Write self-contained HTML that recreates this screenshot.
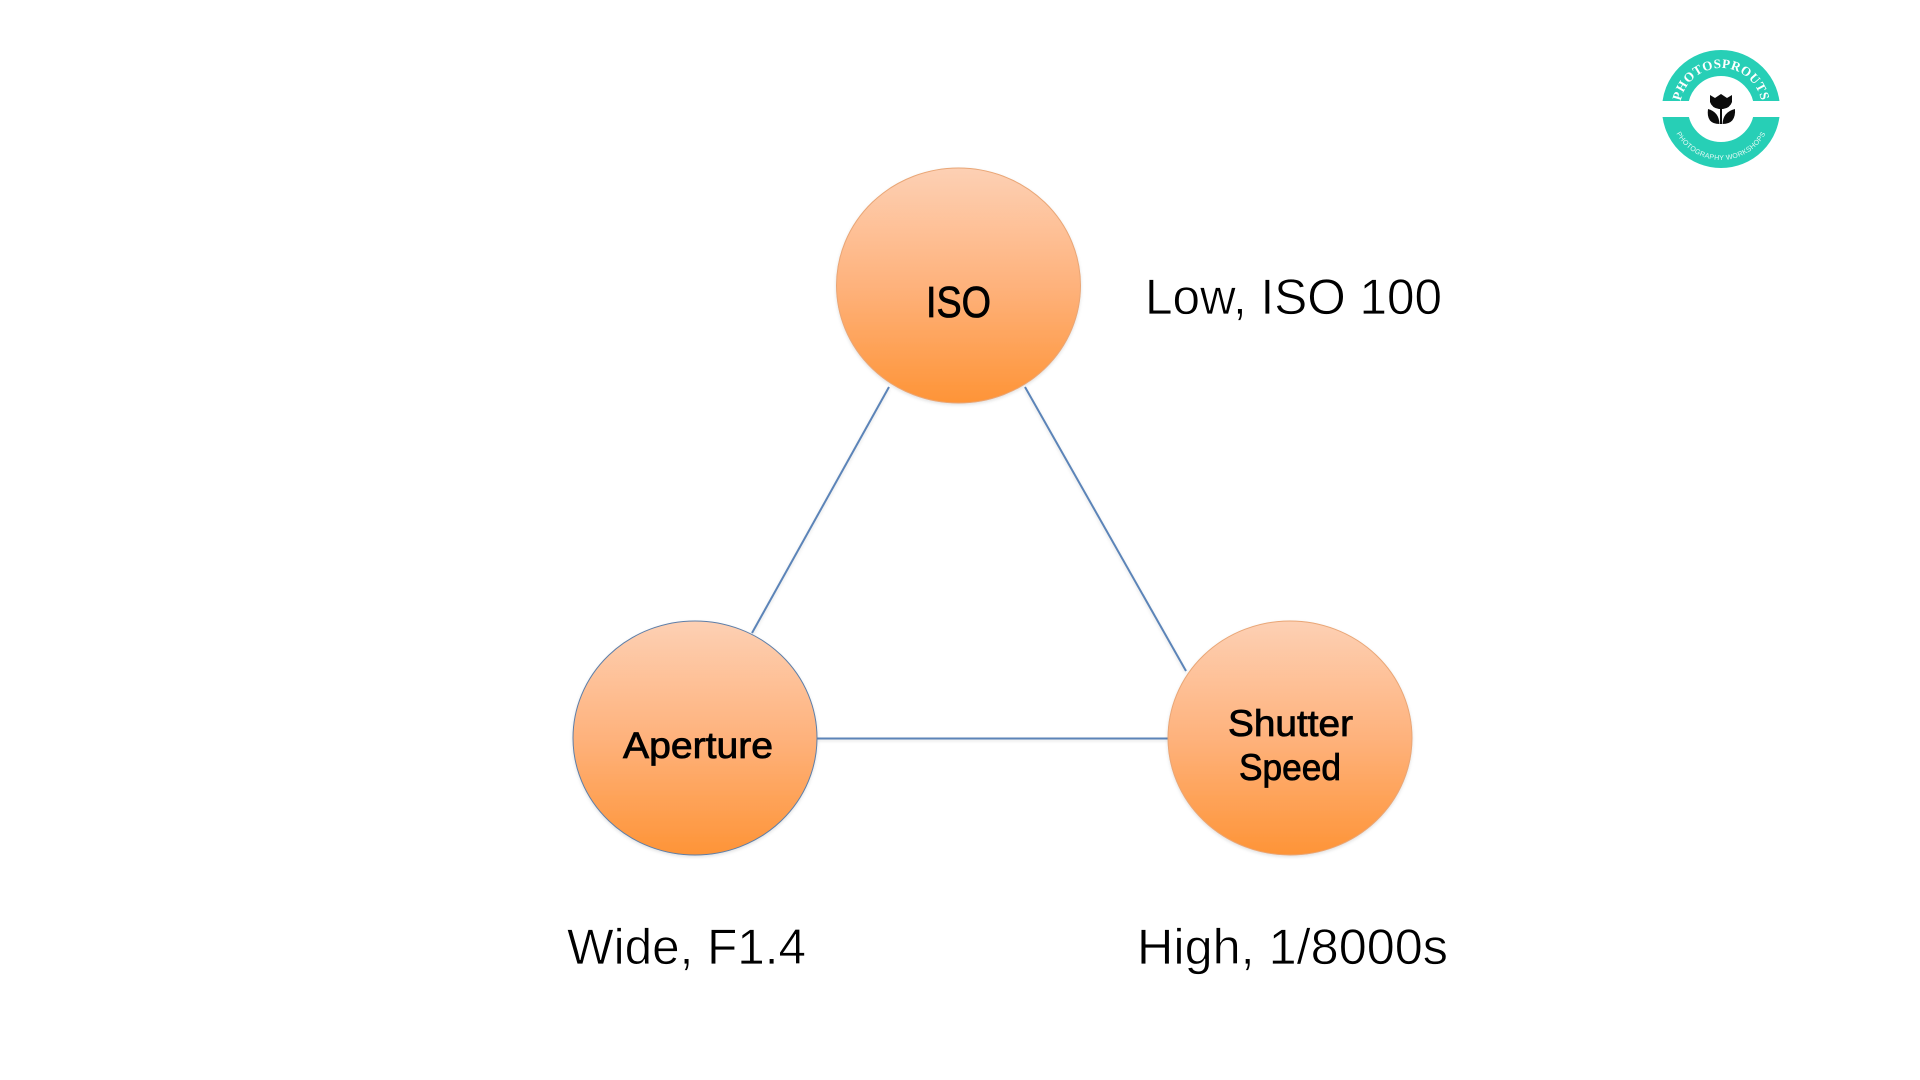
<!DOCTYPE html>
<html><head><meta charset="utf-8"><style>html,body{margin:0;padding:0;background:#fff;width:1920px;height:1080px;overflow:hidden}svg{display:block}text{font-family:"Liberation Sans",sans-serif;fill:#000}.b{stroke:#000;stroke-width:.8px}.l{stroke:#fff;stroke-width:.7px}</style></head><body>
<svg width="1920" height="1080" viewBox="0 0 1920 1080" xmlns="http://www.w3.org/2000/svg">
<defs>
<linearGradient id="g" x1="0" y1="0" x2="0" y2="1"><stop offset="0" stop-color="#fdd0b4"/><stop offset="0.5" stop-color="#feb27c"/><stop offset="1" stop-color="#fe9437"/></linearGradient>
<filter id="s" x="-10%" y="-10%" width="120%" height="120%"><feDropShadow dx="0" dy="1.5" stdDeviation="1.5" flood-color="#000" flood-opacity="0.12"/></filter>
<clipPath id="tc"><rect x="1650" y="40" width="142" height="61"/></clipPath>
<clipPath id="bc"><rect x="1650" y="117" width="142" height="61"/></clipPath>
<path id="ta" d="M1680 109 A41 41 0 0 1 1762 109" fill="none"/>
<path id="ba" d="M1670 109 A51 51 0 0 0 1772 109" fill="none"/>
</defs>
<g stroke="#5b84b8" stroke-width="2" fill="none" filter="url(#s)">
<line x1="889" y1="387" x2="752" y2="633"/>
<line x1="1025" y1="387" x2="1186" y2="671"/>
<line x1="817" y1="738.5" x2="1168" y2="738.5"/>
</g>
<ellipse cx="958.5" cy="285.5" rx="122" ry="117.5" fill="url(#g)" stroke="#e9a676" stroke-width="1" filter="url(#s)"/>
<ellipse cx="695" cy="738" rx="122" ry="117" fill="url(#g)" stroke="#5d7ea8" stroke-width="1" filter="url(#s)"/>
<ellipse cx="1290" cy="738" rx="122" ry="117" fill="url(#g)" stroke="#e9a676" stroke-width="1" filter="url(#s)"/>
<text class="b" x="926" y="317" font-size="44" textLength="65" lengthAdjust="spacingAndGlyphs">ISO</text>
<text class="b" x="623" y="758" font-size="37" textLength="150" lengthAdjust="spacingAndGlyphs">Aperture</text>
<text class="b" x="1228" y="736" font-size="37" textLength="125" lengthAdjust="spacingAndGlyphs">Shutter</text>
<text class="b" x="1239" y="780" font-size="37" textLength="102" lengthAdjust="spacingAndGlyphs">Speed</text>
<text class="l" x="1145" y="314" font-size="50" textLength="297" lengthAdjust="spacingAndGlyphs">Low, ISO 100</text>
<text class="l" x="567" y="964" font-size="50" textLength="239" lengthAdjust="spacingAndGlyphs">Wide, F1.4</text>
<text class="l" x="1137" y="964" font-size="50" textLength="311" lengthAdjust="spacingAndGlyphs">High, 1/8000s</text>
<g fill="none" stroke="#27cfb6" stroke-width="26">
<circle cx="1721" cy="109" r="46" clip-path="url(#tc)"/>
<circle cx="1721" cy="109" r="46" clip-path="url(#bc)"/>
</g>
<text font-size="13" font-weight="bold" style="font-family:'Liberation Serif',serif;fill:#fff;letter-spacing:.5px"><textPath href="#ta" startOffset="50%" text-anchor="middle">PHOTOSPROUTS</textPath></text>
<text font-size="7" style="fill:#e6fbf6;letter-spacing:.3px"><textPath href="#ba" startOffset="50%" text-anchor="middle">PHOTOGRAPHY WORKSHOPS</textPath></text>
<g fill="#0c0c0c">
<path d="M1710 95 L1715 98 L1721 94 L1727 98 L1732 95 L1732 102 Q1730 108 1723 109 L1719 109 Q1712 108 1710 102 Z"/>
<rect x="1720" y="108" width="2" height="16"/>
<path d="M1708 109 Q1719 112 1719.5 124 Q1706 124 1708 109 Z"/>
<path d="M1735 109 Q1723 112 1722.5 124 Q1736 124 1735 109 Z"/>
</g>
</svg>
</body></html>
